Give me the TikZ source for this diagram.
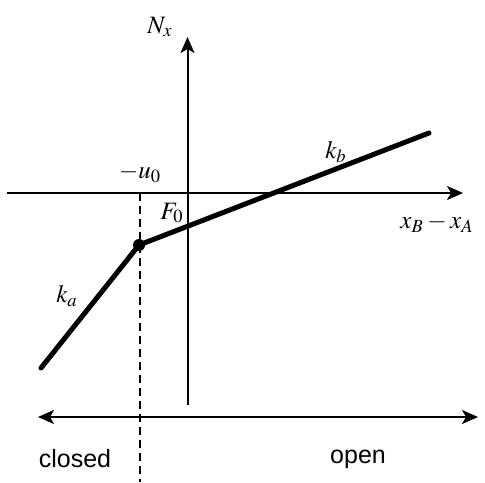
\documentclass[tikz,border=0pt]{standalone}
\usepackage{mathptmx}
\usepackage{fontspec}
\setmainfont{Liberation Serif}
\setsansfont{Liberation Sans}
\usetikzlibrary{arrows.meta}
\tikzset{
  axis/.style={line width=1pt, -{Stealth[length=8pt,width=7pt,inset=2pt]}},
  dblaxis/.style={line width=1pt, {Stealth[length=8pt,width=7pt,inset=2pt]}-{Stealth[length=8pt,width=7pt,inset=2pt]}},
  curve/.style={line width=2.5pt, line cap=round, line join=round},
  dashline/.style={line width=0.9pt, dash pattern=on 4pt off 2.5pt},
  mlabel/.style={inner sep=0pt, font=\fontsize{12.5}{15}\selectfont},
  tlabel/.style={inner sep=0pt, font=\sffamily\fontsize{12.5}{15}\selectfont},
}
\begin{document}
\begin{tikzpicture}[x=0.5pt,y=-0.5pt]
\useasboundingbox (0,0) rectangle (485,482);
% coordinates
\coordinate (hL) at (7,193);
\coordinate (hR) at (463,193);
\coordinate (vB) at (187.5,405);
\coordinate (vT) at (187.5,37);
\coordinate (dT) at (140,193);
\coordinate (dB) at (140,482);
\coordinate (bL) at (38,417);
\coordinate (bR) at (478,417);
\coordinate (p1) at (41,368);
\coordinate (p2) at (139,245);
\coordinate (p3) at (429,133);
% axes
\draw[axis] (hL) -- (hR);
\draw[axis] (vB) -- (vT);
\draw[dashline] (dT) -- (dB);
\draw[dblaxis] (bL) -- (bR);
% characteristic
\draw[curve] (p1) -- (p2) -- (p3);
\node[circle, fill=black, inner sep=0pt, minimum size=6pt] (dot) at (p2) {};
% labels
\node[mlabel] (nx) at (160,27) {$N_x$};
\node[mlabel] (u0) at (140,173) {$-u_0$};
\node[mlabel] (f0) at (172,213) {$F_0$};
\node[mlabel] (kb) at (336,152) {$k_b$};
\node[mlabel] (ka) at (67,296) {$k_a$};
\node[mlabel] (xx) at (437,223) {$x_B-x_A$};
\node[tlabel] (cl) at (75,459) {closed};
\node[tlabel] (op) at (358,459) {open};
\end{tikzpicture}
\end{document}
